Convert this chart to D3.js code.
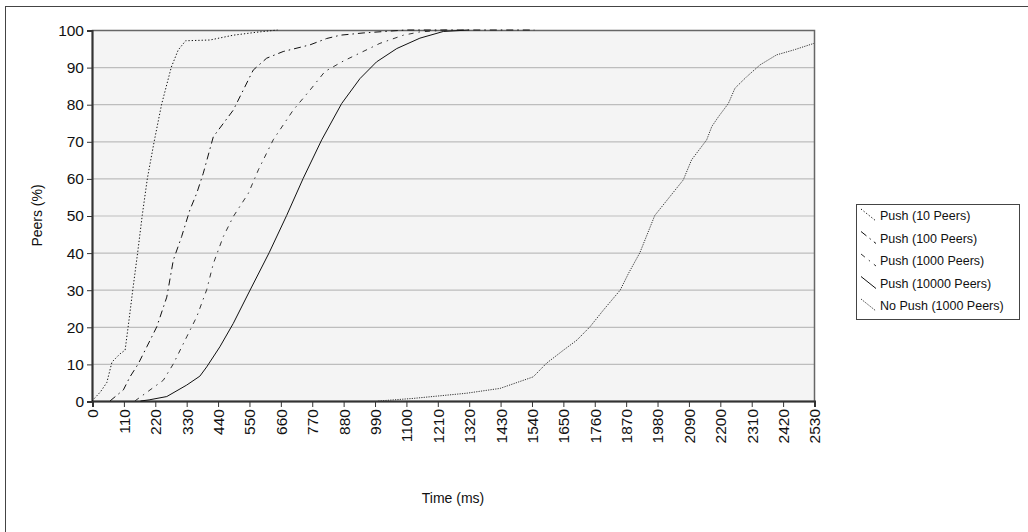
<!DOCTYPE html>
<html><head><meta charset="utf-8">
<script src="https://cdn.jsdelivr.net/npm/d3@7"></script>
<style>
html,body{margin:0;padding:0;background:#fff;}
svg{display:block;font-family:"Liberation Sans",Arial,sans-serif;}
</style></head>
<body><svg id="c" width="1028" height="532"></svg>
<script>
const xTicks = d3.range(0, 2531, 110);
const yTicks = d3.range(0, 101, 10);
const seriesNames = ["Push (10 Peers)", "Push (100 Peers)", "Push (1000 Peers)", "Push (10000 Peers)", "No Push (1000 Peers)"];

const push10T = [0, 30, 52, 70, 98, 116, 130, 143, 160, 176, 194, 218, 244, 278, 302, 328, 413, 495, 577, 650];
const push10P = [0, 2.5, 5, 10.5, 12.7, 13.7, 22, 30, 40, 50, 60, 70, 80, 90, 94.6, 97.1, 97.3, 98.6, 99.4, 100];

const push100T = [63, 110, 133, 162, 192, 227, 262, 285, 314, 343, 367, 390, 425, 495, 530, 565, 612, 670, 764, 822, 870, 950, 1100, 1550];
const push100P = [0, 3, 6.5, 10, 14.6, 20, 28, 38, 44.3, 51.5, 56, 61.4, 71.2, 78.4, 83.8, 89.2, 92.4, 94.2, 96, 97.7, 98.6, 99.2, 100, 100];

const push1000T = [150, 186, 250, 285, 332, 367, 402, 425, 460, 495, 548, 583, 635, 705, 764, 816, 880, 1009, 1091, 1150, 1250];
const push1000P = [0, 2, 5.6, 10, 17.3, 22.7, 30, 37, 44.3, 49.7, 56, 62.3, 70.4, 78.4, 83.8, 88.8, 91.6, 96.4, 98.6, 99.5, 100];

const push10000T = [170, 200, 262, 332, 378, 402, 448, 495, 554, 621, 682, 740, 805, 875, 939, 997, 1068, 1149, 1231, 1320];
const push10000P = [0, 0.3, 1.2, 4.3, 6.7, 9.2, 14.6, 20.9, 29.9, 40, 50, 60, 70.4, 80.2, 86.9, 91.4, 95, 97.8, 99.6, 100];

const noPushT = [1003, 1126, 1313, 1430, 1546, 1593, 1652, 1699, 1745, 1792, 1851, 1880, 1920, 1972, 2072, 2101, 2154, 2172, 2195, 2230, 2253, 2294, 2341, 2399, 2458, 2530];
const noPushP = [0, 0.7, 2.1, 3.4, 6.5, 10.2, 13.7, 16.4, 20, 24.5, 29.9, 34.4, 40, 50, 59.6, 65, 70.4, 74, 76.6, 80.2, 84.3, 87.4, 90.6, 93.3, 94.6, 96.4];

const seriesData = [
  [push10T, push10P], [push100T, push100P], [push1000T, push1000P],
  [push10000T, push10000P], [noPushT, noPushP]
];
const styles = [
  {dash: "1.3,2", color: "#111", w: 1},
  {dash: "7,4,1.5,4", color: "#111", w: 1},
  {dash: "5,5,1.5,5", color: "#333", w: 1},
  {dash: null, color: "#111", w: 1},
  {dash: "1.2,1.2", color: "#333", w: 1}
];

const svg = d3.select("#c");
const L = 92, R = 814, T = 30, B = 401;
const x = d3.scaleLinear().domain([0, 2530]).range([L, R]);
const y = d3.scaleLinear().domain([0, 100]).range([B, T]);

// outer frame
svg.append("rect").attr("x", 5.5).attr("y", 6.5).attr("width", 1030).attr("height", 540)
  .attr("fill", "none").attr("stroke", "#444").attr("stroke-width", 1);

// plot background
svg.append("rect").attr("x", L).attr("y", T).attr("width", R - L).attr("height", B - T)
  .attr("fill", "#f4f4f4");

// gridlines
svg.append("g").selectAll("line").data(yTicks.filter(d => d > 0 && d < 100)).join("line")
  .attr("x1", L).attr("x2", R).attr("y1", d => y(d) + 0.5).attr("y2", d => y(d) + 0.5)
  .attr("stroke", "#bdbdbd").attr("stroke-width", 1.2);

// frame of plot
svg.append("rect").attr("x", L + 0.5).attr("y", T + 0.5).attr("width", R - L).attr("height", B - T)
  .attr("fill", "none").attr("stroke", "#666").attr("stroke-width", 1.5);

// axes
const yAxis = d3.axisLeft(y).tickValues(yTicks).tickSize(5).tickPadding(3);
const gy = svg.append("g").attr("transform", `translate(${L},0.5)`).call(yAxis);
gy.select(".domain").attr("stroke", "#333").attr("stroke-width", 2);
gy.selectAll(".tick line").attr("stroke", "#333");
gy.selectAll("text").attr("font-size", 15.5).attr("fill", "#111")
  .attr("font-family", "Liberation Sans, Arial, sans-serif");

const xAxis = d3.axisBottom(x).tickValues(xTicks).tickSize(6).tickFormat(d3.format("d"));
const gx = svg.append("g").attr("transform", `translate(0.5,${B})`).call(xAxis);
gx.select(".domain").attr("stroke", "#333").attr("stroke-width", 2);
gx.selectAll(".tick line").attr("stroke", "#333");
gx.selectAll("text").attr("font-size", 15.5).attr("fill", "#111")
  .attr("font-family", "Liberation Sans, Arial, sans-serif")
  .attr("transform", "rotate(-90)").attr("text-anchor", "end")
  .attr("x", -8).attr("y", 0).attr("dy", "0.35em");

// series lines
const line = d3.line().x(d => x(d[0])).y(d => y(d[1]));
seriesData.forEach((s, i) => {
  const pts = s[0].map((t, j) => [t, s[1][j]]);
  svg.append("path").datum(pts).attr("d", line).attr("fill", "none")
    .attr("stroke", styles[i].color).attr("stroke-width", styles[i].w)
    .attr("stroke-dasharray", styles[i].dash);
});

// axis titles
svg.append("text").attr("transform", `translate(42,${(T + B) / 2}) rotate(-90)`)
  .attr("text-anchor", "middle").attr("font-size", 14).attr("fill", "#111").text("Peers (%)");
svg.append("text").attr("x", (L + R) / 2).attr("y", 503)
  .attr("text-anchor", "middle").attr("font-size", 14).attr("fill", "#111").text("Time (ms)");

// legend
const lg = svg.append("g");
lg.append("rect").attr("x", 856.5).attr("y", 204.5).attr("width", 163).attr("height", 115)
  .attr("fill", "#fff").attr("stroke", "#444");
seriesNames.forEach((n, i) => {
  const cy = 216 + i * 22.5;
  lg.append("line").attr("x1", 861).attr("y1", cy - 7).attr("x2", 876).attr("y2", cy + 5)
    .attr("stroke", styles[i].color).attr("stroke-width", 1)
    .attr("stroke-dasharray", styles[i].dash);
  lg.append("text").attr("x", 880).attr("y", cy).attr("dy", "0.35em")
    .attr("font-size", 12.5).attr("fill", "#111").text(n);
});
</script></body></html>
